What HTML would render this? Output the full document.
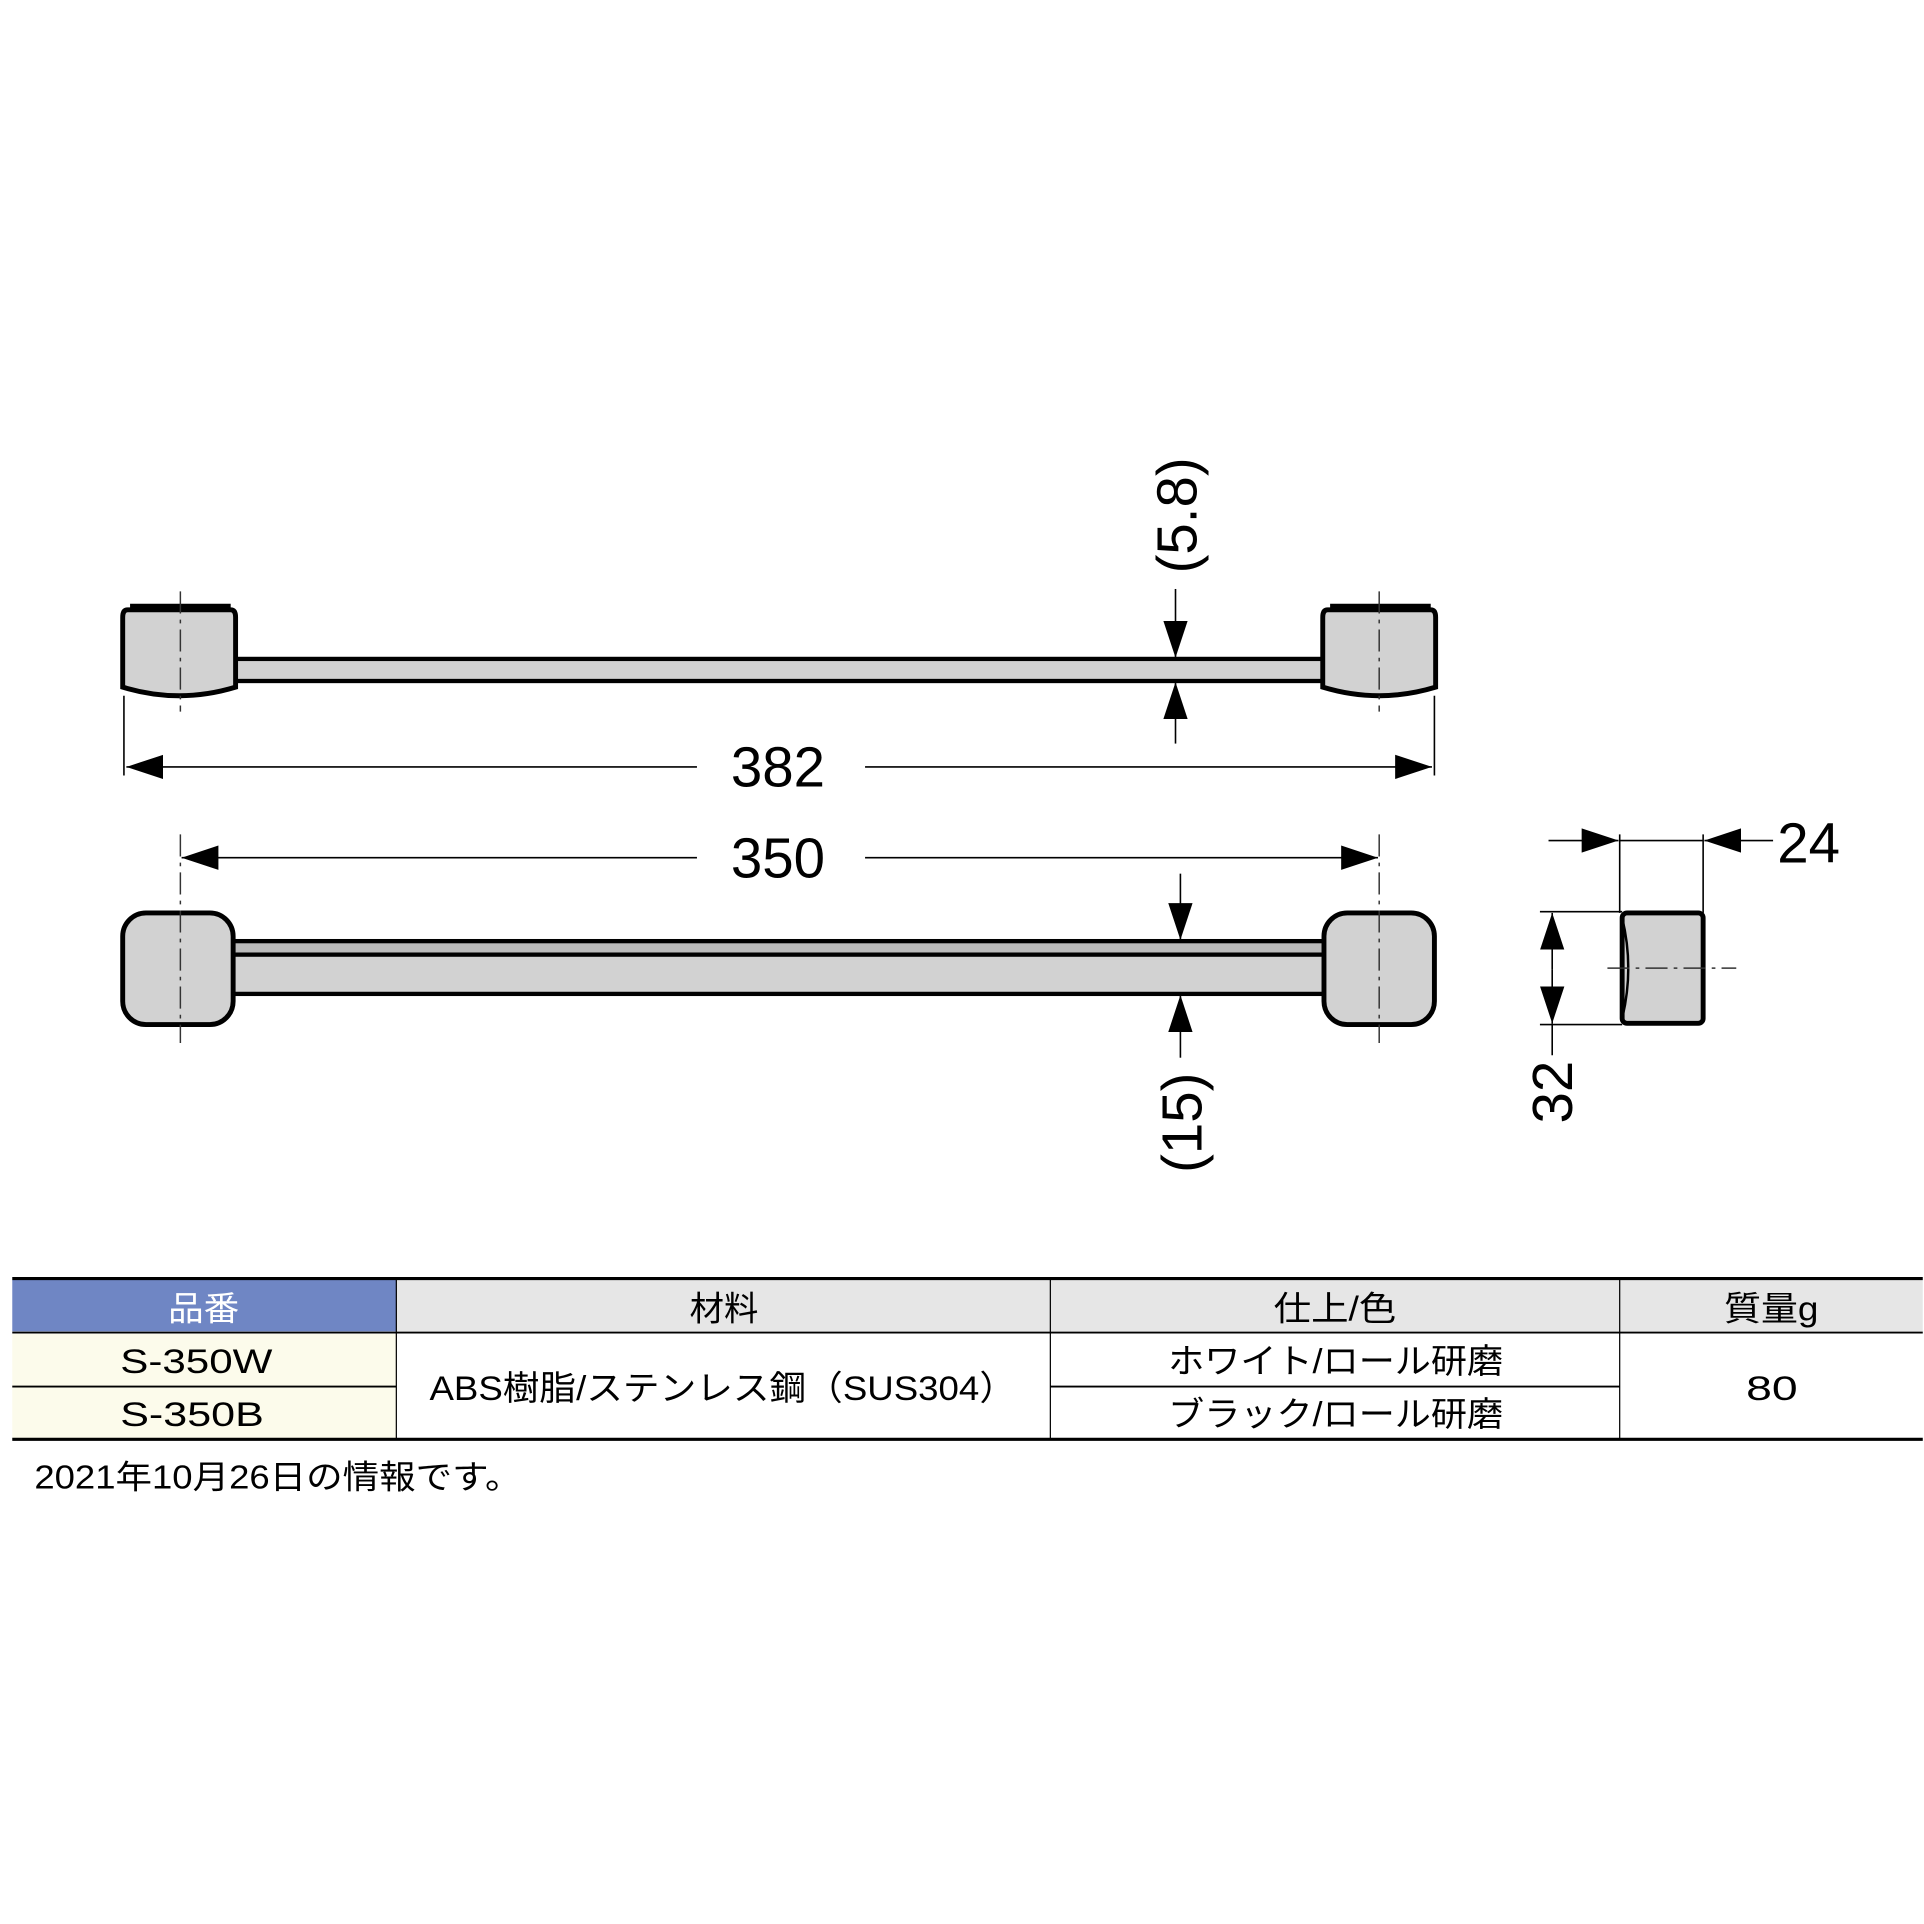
<!DOCTYPE html>
<html><head><meta charset="utf-8"><style>
html,body{margin:0;padding:0;background:#fff;}
svg{display:block;}
text{font-family:"Liberation Sans","Noto Sans CJK JP",sans-serif;}
</style></head><body>
<svg width="1924" height="1924" viewBox="0 0 1568 1568" xmlns="http://www.w3.org/2000/svg">
<defs>
<marker id="a" viewBox="0 0 10 10" refX="10" refY="5" markerWidth="30" markerHeight="30" markerUnits="userSpaceOnUse" orient="auto-start-reverse"><path d="M0,1.7 L10,5 L0,8.3 z" fill="#000"/></marker>
</defs>
<!-- TOP VIEW -->
<rect x="190" y="537" width="890" height="18" fill="#d2d2d2" stroke="#000" stroke-width="3.5"/>
<g stroke="#000" stroke-width="4" fill="#d2d2d2">
<path d="M104,497 Q100,497 100,503 V560 Q146,574 192,560 V503 Q192,497 188,497 Z"/>
<path d="M1082,497 Q1078,497 1078,503 V560 Q1124,574 1170,560 V503 Q1170,497 1166,497 Z"/>
</g>
<line x1="106" y1="494" x2="188" y2="494" stroke="#000" stroke-width="4"/>
<line x1="1084" y1="494" x2="1166" y2="494" stroke="#000" stroke-width="4"/>
<g stroke="#333" stroke-width="1.2" stroke-dasharray="18,5,3,5">
<line x1="147" y1="482" x2="147" y2="580"/>
<line x1="1124" y1="482" x2="1124" y2="580"/>
</g>
<g stroke="#000" stroke-width="1.3" fill="none">
<line x1="101" y1="567" x2="101" y2="632"/>
<line x1="1169" y1="567" x2="1169" y2="632"/>
<line x1="103" y1="625" x2="568" y2="625" marker-start="url(#a)"/>
<line x1="705" y1="625" x2="1167" y2="625" marker-end="url(#a)"/>
<line x1="958" y1="480" x2="958" y2="536" marker-end="url(#a)"/>
<line x1="958" y1="606" x2="958" y2="556" marker-end="url(#a)"/>
</g>
<text x="634" y="641" font-size="46" text-anchor="middle">382</text>
<text transform="translate(975,420) rotate(-90)" font-size="46" text-anchor="middle">(5.8)</text>
<!-- FRONT VIEW -->
<rect x="188" y="767" width="894" height="43" fill="#d2d2d2" stroke="#000" stroke-width="3.5"/>
<rect x="188" y="767" width="894" height="11" fill="#bbb" stroke="#000" stroke-width="3.5"/>
<rect x="100" y="744" width="90" height="91" rx="19" fill="#d2d2d2" stroke="#000" stroke-width="4"/>
<rect x="1079" y="744" width="90" height="91" rx="19" fill="#d2d2d2" stroke="#000" stroke-width="4"/>
<g stroke="#333" stroke-width="1.2" stroke-dasharray="18,5,3,5">
<line x1="147" y1="680" x2="147" y2="850"/>
<line x1="1124" y1="680" x2="1124" y2="850"/>
</g>
<g stroke="#000" stroke-width="1.3" fill="none">
<line x1="148" y1="699" x2="568" y2="699" marker-start="url(#a)"/>
<line x1="705" y1="699" x2="1123" y2="699" marker-end="url(#a)"/>
<line x1="962" y1="712" x2="962" y2="766" marker-end="url(#a)"/>
<line x1="962" y1="862" x2="962" y2="811" marker-end="url(#a)"/>
</g>
<text x="634" y="715" font-size="46" text-anchor="middle">350</text>
<text transform="translate(979,915) rotate(-90)" font-size="46" text-anchor="middle">(15)</text>
<!-- SIDE VIEW -->
<rect x="1322" y="744" width="66" height="90" rx="4" fill="#d2d2d2" stroke="#000" stroke-width="4"/>
<path d="M1322,748 Q1332,789 1322,830" stroke="#000" stroke-width="2" fill="none"/>
<g stroke="#000" stroke-width="1.3" fill="none">
<line x1="1320" y1="680" x2="1320" y2="744"/>
<line x1="1388" y1="680" x2="1388" y2="744"/>
<line x1="1262" y1="685" x2="1319" y2="685" marker-end="url(#a)"/>
<line x1="1445" y1="685" x2="1389" y2="685" marker-end="url(#a)"/>
<line x1="1320" y1="685" x2="1388" y2="685"/>
<line x1="1255" y1="743" x2="1322" y2="743"/>
<line x1="1255" y1="835" x2="1322" y2="835"/>
<line x1="1265" y1="790" x2="1265" y2="744" marker-end="url(#a)"/>
<line x1="1265" y1="790" x2="1265" y2="834" marker-end="url(#a)"/>
<line x1="1265" y1="834" x2="1265" y2="860"/>
<line x1="1310" y1="789" x2="1415" y2="789" stroke-dasharray="18,5,3,5" stroke="#333"/>
</g>
<text x="1474" y="703" font-size="46" text-anchor="middle">24</text>
<text transform="translate(1281,890) rotate(-90)" font-size="46" text-anchor="middle">32</text>
<!-- TABLE -->
<rect x="10" y="1043" width="313" height="42" fill="#6f86c4"/>
<rect x="323" y="1043" width="1244" height="42" fill="#e6e6e6"/>
<rect x="10" y="1087" width="313" height="86" fill="#fcfbeb"/>
<g stroke="#000" fill="none">
<line x1="10" y1="1042" x2="1567" y2="1042" stroke-width="2.5"/>
<line x1="10" y1="1086" x2="1567" y2="1086" stroke-width="1.5"/>
<line x1="10" y1="1130" x2="323" y2="1130" stroke-width="1.5"/>
<line x1="856" y1="1130" x2="1320" y2="1130" stroke-width="1.5"/>
<line x1="10" y1="1173" x2="1567" y2="1173" stroke-width="2.5"/>
<line x1="323" y1="1042" x2="323" y2="1173" stroke-width="1"/>
<line x1="856" y1="1042" x2="856" y2="1173" stroke-width="1"/>
<line x1="1320" y1="1042" x2="1320" y2="1173" stroke-width="1"/>
</g>
<g font-size="28" lengthAdjust="spacingAndGlyphs">
<text x="137" y="1076" textLength="58" lengthAdjust="spacingAndGlyphs" fill="#fff">品番</text>
<text x="562" y="1076" textLength="56" lengthAdjust="spacingAndGlyphs">材料</text>
<text x="1038" y="1076" textLength="100" lengthAdjust="spacingAndGlyphs">仕上/色</text>
<text x="1405" y="1076" textLength="77" lengthAdjust="spacingAndGlyphs">質量g</text>
<text x="98" y="1119" textLength="124" lengthAdjust="spacingAndGlyphs">S-350W</text>
<text x="98" y="1162" textLength="117" lengthAdjust="spacingAndGlyphs">S-350B</text>
<text x="350" y="1141" textLength="478" lengthAdjust="spacingAndGlyphs">ABS樹脂/ステンレス鋼（SUS304）</text>
<text x="952" y="1119" textLength="273" lengthAdjust="spacingAndGlyphs">ホワイト/ロール研磨</text>
<text x="952" y="1162" textLength="273" lengthAdjust="spacingAndGlyphs">ブラック/ロール研磨</text>
<text x="1423" y="1141" textLength="42" lengthAdjust="spacingAndGlyphs">80</text>
</g>
<text x="28" y="1213" font-size="27" textLength="397" lengthAdjust="spacingAndGlyphs">2021年10月26日の情報です。</text>
</svg>
</body></html>
